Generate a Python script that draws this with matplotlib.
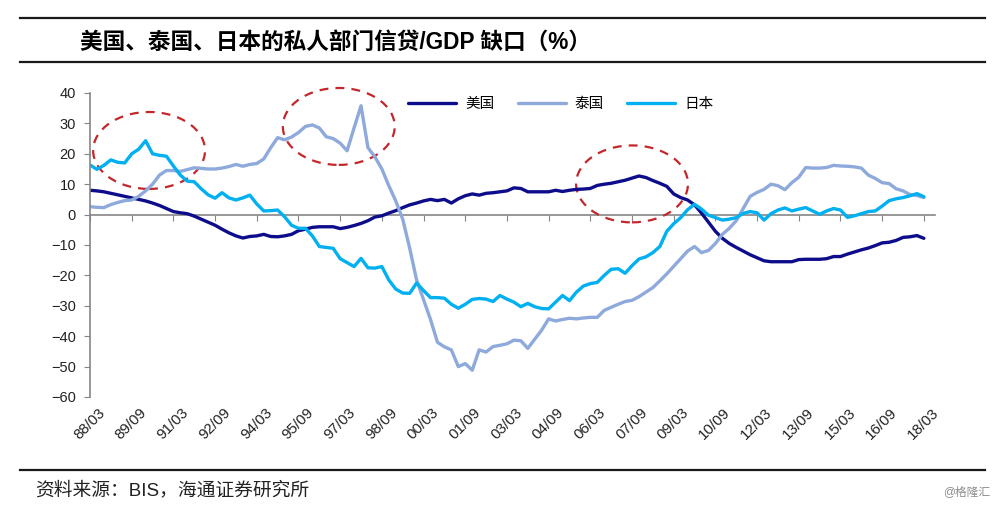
import numpy as np
import matplotlib
matplotlib.use('Agg')
import matplotlib.pyplot as plt
from matplotlib.patches import Ellipse
from matplotlib.lines import Line2D
from matplotlib.transforms import ScaledTranslation

plt.rcParams['font.family'] = ['Liberation Sans', 'Noto Sans CJK SC', 'DejaVu Sans']

# quarterly data, 88Q1 .. 18Q1 (121 quarters)
tick_labels = ['88/03', '89/09', '91/03', '92/09', '94/03', '95/09', '97/03',
               '98/09', '00/03', '01/09', '03/03', '04/09', '06/03', '07/09',
               '09/03', '10/09', '12/03', '13/09', '15/03', '16/09', '18/03']
series_names = ['美国', '泰国', '日本']

us = [8.0, 7.8, 7.5, 7.0, 6.5, 6.0, 5.5, 5.0, 4.5, 3.8,
      3.0, 2.0, 1.0, 0.6, 0.3, -0.5, -1.5, -2.5, -3.5, -4.8,
      -6.0, -7.0, -7.7, -7.2, -7.0, -6.5, -7.2, -7.3, -7.0, -6.5,
      -5.3, -4.8, -4.2, -4.0, -4.0, -4.0, -4.6, -4.2, -3.6, -2.9,
      -2.0, -0.8, -0.4, 0.5, 1.3, 2.3, 3.2, 3.8, 4.5, 5.0,
      4.6, 5.0, 3.8, 5.2, 6.2, 6.8, 6.4, 7.0, 7.2, 7.5,
      7.8, 8.8, 8.6, 7.5, 7.5, 7.5, 7.5, 8.0, 7.6, 8.0,
      8.3, 8.4, 8.6, 9.6, 10.0, 10.3, 10.8, 11.3, 12.0, 12.7,
      12.2, 11.2, 10.3, 9.3, 6.8, 5.6, 4.8, 3.2, 0.5, -2.5,
      -5.5, -7.8, -9.5, -10.8, -12.0, -13.2, -14.2, -15.2, -15.5, -15.5,
      -15.5, -15.5, -14.8, -14.7, -14.7, -14.7, -14.5, -13.8, -13.8, -13.0,
      -12.3, -11.6, -11.0, -10.2, -9.3, -9.1, -8.5, -7.5, -7.3, -6.9,
      -7.8]

thailand = [2.6, 2.4, 2.3, 3.3, 4.0, 4.6, 4.8, 6.0, 7.8, 10.0,
            13.0, 14.5, 14.5, 14.2, 14.8, 15.4, 15.2, 15.0, 15.0, 15.3,
            15.8, 16.5, 15.9, 16.5, 16.8, 18.3, 22.0, 25.3, 24.6, 25.5,
            27.0, 29.0, 29.5, 28.5, 25.6, 25.0, 23.5, 21.0, 28.5, 35.8,
            22.0, 19.0, 15.0, 9.5, 4.5, -1.5, -11.0, -21.5, -28.0, -34.5,
            -42.0, -43.5, -44.5, -50.0, -49.0, -51.2, -44.5, -45.2, -43.4, -43.0,
            -42.5, -41.3, -41.5, -44.0, -41.0, -38.0, -34.3, -35.0, -34.5, -34.1,
            -34.3, -34.0, -33.8, -33.8, -31.5, -30.5, -29.5, -28.6, -28.2, -27.0,
            -25.5, -24.0, -21.8, -19.5, -17.0, -14.5, -12.0, -10.5, -12.5, -11.8,
            -9.5, -6.5, -4.5, -2.0, 2.0, 6.0, 7.3, 8.3, 10.0, 9.5,
            8.2, 10.5, 12.3, 15.5, 15.3, 15.3, 15.5, 16.2, 16.0, 15.9,
            15.7, 15.3, 13.0, 11.9, 10.5, 10.2, 8.5, 7.8, 6.6, 6.3,
            5.6]

japan = [16.3, 14.9, 16.2, 18.0, 17.2, 17.0, 20.0, 21.5, 24.3, 20.0,
         19.5, 19.2, 16.0, 13.0, 11.0, 10.8, 8.5, 6.5, 5.4, 7.2,
         5.5, 4.8, 5.5, 6.4, 3.5, 1.2, 1.3, 1.5, -0.7, -3.5,
         -4.5, -4.5, -7.0, -10.5, -10.8, -11.1, -14.5, -15.8, -17.1, -14.4,
         -17.5, -17.6, -17.1, -21.5, -24.5, -25.8, -25.9, -22.5, -25.0, -27.3,
         -27.3, -27.5, -29.5, -30.8, -29.5, -27.9, -27.6, -27.8, -28.6, -26.6,
         -27.8, -28.8, -30.3, -29.2, -30.3, -30.9, -31.0, -28.8, -26.6, -28.3,
         -25.5, -23.5, -22.7, -22.3, -20.0, -18.0, -17.8, -19.3, -16.8, -14.6,
         -13.9, -12.5, -10.5, -5.5, -3.0, -1.0, 1.6, 3.4, 1.8, -0.2,
         -1.0, -1.8, -1.5, -1.0, 0.4, 1.0, 0.6, -1.8, 0.3, 1.5,
         2.2, 1.2, 1.8, 2.3, 1.2, 0.1, 1.2, 2.0, 1.5, -0.9,
         -0.4, 0.3, 1.0, 1.2, 2.8, 4.6, 5.2, 5.6, 6.2, 6.9,
         5.9]

# highlighted episodes: (centre quarter, centre value)
highlights = [(8.5, 21.1), (35.8, 29.0), (78.0, 10.1)]

colors = ['#0D0D8C', '#8EA9DB', '#00B0F0']
quarters = np.arange(len(us))
tick_pos = quarters[::6]

fig = plt.figure(figsize=(10, 5.05), dpi=100)
ax = fig.add_axes([0.09, 1 - 397 / 505, 0.845, 304 / 505])

for vals, name, c in zip([us, thailand, japan], series_names, colors):
    ax.plot(quarters, vals, color=c, lw=2.4, label=name, solid_capstyle='round')

ax.set_xlim(0, 121.6)
ax.set_ylim(-60, 40)
ax.set_yticks(np.arange(-60, 41, 10))
ax.tick_params(axis='y', direction='out', length=4, color='#868686',
               labelsize=10.5, labelcolor='#222222', pad=6)
for s in ['top', 'right', 'bottom']:
    ax.spines[s].set_visible(False)
ax.spines['left'].set_color('#868686')
ax.spines['left'].set_linewidth(1.2)

ax.set_xticks(tick_pos)
ax.set_xticklabels(tick_labels, rotation=45, ha='right', va='top',
                   rotation_mode='anchor', fontsize=10.8, color='#222222')
ax.tick_params(axis='x', length=0, pad=6)
for lab in ax.get_xticklabels():
    lab.set_transform(lab.get_transform() + ScaledTranslation(0.08, 0, fig.dpi_scale_trans))

# zero line with tick marks
zero_frac = (0 - ax.get_ylim()[0]) / (ax.get_ylim()[1] - ax.get_ylim()[0])
sec = ax.secondary_xaxis(zero_frac)
sec.set_alignment('bottom')
sec.set_xticks(tick_pos)
sec.tick_params(axis='x', direction='out', length=4, color='#868686',
                labelbottom=False, labeltop=False)
sec.spines['bottom'].set_color('#868686')
sec.spines['bottom'].set_linewidth(1.2)

for cx, cy in highlights:
    ax.add_patch(Ellipse((cx, cy), 16.1, 25.3, fill=False, ec='#C3272B',
                         lw=1.6, ls=(0, (4, 3.2)), clip_on=False))

leg = ax.legend(loc='upper center', bbox_to_anchor=(0.557, 1.03), ncol=3,
                frameon=False, fontsize=10.5, handlelength=3.3,
                handletextpad=0.6, columnspacing=1.6)

# header / footer
for yf in [1 - 18 / 505, 1 - 62 / 505, 1 - 470 / 505]:
    fig.add_artist(Line2D([0.02, 0.985], [yf, yf], color='#1a1a1a', lw=1.6))
fig.text(0.08, 1 - 42 / 505, '美国、泰国、日本的私人部门信贷/GDP 缺口（%）',
         fontsize=16.3, fontweight='bold', va='center', ha='left')
fig.text(0.035, 1 - 490 / 505, '资料来源：BIS，海通证券研究所',
         fontsize=13.5, va='center', ha='left', color='#222222')
fig.text(0.99, 1 - 492 / 505, '@格隆汇', fontsize=8.5, va='center', ha='right',
         color='#8c8c8c')

fig.savefig('out.png', dpi=100)
